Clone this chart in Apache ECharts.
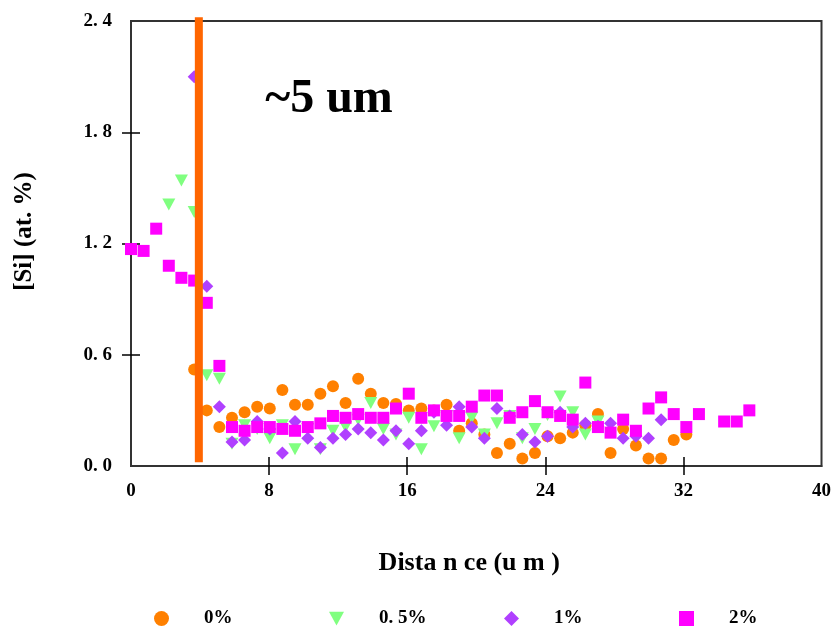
<!DOCTYPE html>
<html>
<head>
<meta charset="utf-8">
<script src="https://cdn.jsdelivr.net/npm/echarts@6/dist/echarts.min.js"></script>
<style>
html,body{margin:0;padding:0;background:#fff;}
#chart{width:834px;height:626px;}
</style>
</head>
<body>
<div id="chart"></div>
<script>
// Shared measurement positions (um)
const distance = [0, 0.73, 1.46, 2.19, 2.92, 3.66, 4.39, 5.12, 5.85, 6.58,
  7.31, 8.04, 8.77, 9.5, 10.24, 10.97, 11.7, 12.43, 13.16, 13.89,
  14.62, 15.35, 16.09, 16.82, 17.55, 18.28, 19.01, 19.74, 20.47, 21.2,
  21.94, 22.67, 23.4, 24.13, 24.86, 25.59, 26.32, 27.05, 27.78, 28.51,
  29.25, 29.98, 30.71, 31.44, 32.17, 32.9, 33.63, 34.36, 35.09, 35.82];

const si0 = [null, null, null, null, null, 0.52, 0.30, 0.21, 0.26, 0.29,
  0.32, 0.31, 0.41, 0.33, 0.33, 0.39, 0.43, 0.34, 0.47, 0.39,
  0.34, 0.335, 0.30, 0.31, 0.30, 0.33, 0.19, 0.23, 0.17, 0.07,
  0.12, 0.04, 0.07, 0.16, 0.15, 0.18, 0.22, 0.28, 0.07, 0.20,
  0.11, 0.04, 0.04, 0.14, 0.17, null, null, null, null, null];

const si05 = [null, null, null, 1.41, 1.54, 1.37, 0.49, 0.47, 0.12, 0.22,
  0.20, 0.15, 0.22, 0.09, 0.20, 0.09, 0.19, 0.21, 0.25, 0.34,
  0.20, 0.17, 0.26, 0.09, 0.215, 0.27, 0.15, 0.26, 0.17, 0.23,
  0.27, 0.15, 0.20, 0.275, 0.375, 0.29, 0.17, 0.24, null, null,
  null, null, null, null, null, null, null, null, null, null];

const si1 = [null, null, null, null, null, 2.10, 0.97, 0.32, 0.13, 0.14,
  0.24, 0.20, 0.07, 0.24, 0.15, 0.10, 0.15, 0.17, 0.20, 0.18,
  0.14, 0.19, 0.12, 0.19, 0.29, 0.22, 0.32, 0.21, 0.15, 0.31,
  0.27, 0.17, 0.13, 0.16, 0.29, 0.21, 0.23, 0.215, 0.23, 0.15,
  0.16, 0.15, 0.25, null, null, null, null, null, null, null];

const si2 = [1.17, 1.16, 1.28, 1.08, 1.015, 1.00, 0.88, 0.54, 0.21, 0.19,
  0.21, 0.21, 0.20, 0.19, 0.21, 0.23, 0.27, 0.26, 0.28, 0.26,
  0.26, 0.31, 0.39, 0.26, 0.30, 0.27, 0.27, 0.32, 0.38, 0.38,
  0.26, 0.29, 0.35, 0.29, 0.27, 0.25, 0.45, 0.21, 0.18, 0.25,
  0.19, 0.31, 0.37, 0.28, 0.21, 0.28, null, 0.24, 0.24, 0.30];

const seriesNames = ['0%', '0. 5%', '1%', '2%'];
const seriesColors = ['#FF8000', '#80FF80', '#B040FF', '#FF00FF'];

// vertical boundary line
const boundaryX = 3.93;
const boundaryY = [0.02, 2.42];

const xTicks = [8, 16, 24, 32];
const yTicks = [0.6, 1.2, 1.8];

const FONT = '"Liberation Serif", "Times New Roman", serif';

function pairs(vals) {
  const out = [];
  vals.forEach((v, i) => { if (v !== null) out.push([distance[i], v]); });
  return out;
}

const symbols = [
  'circle',
  'path://M0,0 L12,0 L6,11 Z',
  'diamond',
  'rect'
];
const sizes = [12, [13, 12], 13, 12];
const valueSets = [si0, si05, si1, si2];

const scatterSeries = seriesNames.map((name, k) => ({
  name: name,
  type: 'scatter',
  symbol: symbols[k],
  symbolSize: sizes[k],
  itemStyle: { color: seriesColors[k], opacity: 1 },
  data: pairs(valueSets[k]),
  z: 2 + k
}));

const legendLefts = [149, 324, 499, 674];
const legends = seriesNames.map((name, k) => ({
  data: [name],
  left: legendLefts[k],
  top: 604,
  itemWidth: 15,
  itemHeight: 15,
  selectedMode: false,
  textStyle: { fontFamily: FONT, fontWeight: 'bold', fontSize: 19, color: '#000', padding: [0, 0, 0, 30] }
}));

const axisLabelStyle = { fontFamily: FONT, fontWeight: 'bold', fontSize: 19, color: '#000' };

const option = {
  backgroundColor: '#fff',
  animation: false,
  grid: { left: 131, top: 21, width: 695, height: 445, show: true, borderColor: '#333', borderWidth: 2, backgroundColor: '#fff' },
  legend: legends,
  graphic: [{
    type: 'text',
    x: 329, y: 100,
    style: { text: '~5 um', fontFamily: FONT, fontWeight: 'bold', fontSize: 48, fill: '#000', align: 'center', verticalAlign: 'middle' },
    z: 20
  }],
  xAxis: [{
    type: 'value', min: 0, max: 40, interval: 8, position: 'bottom',
    name: 'Dista n ce (u m )', nameLocation: 'middle', nameGap: 84,
    nameTextStyle: { fontFamily: FONT, fontWeight: 'bold', fontSize: 26, color: '#000', padding: [0, 14, 0, 0] },
    axisLine: { show: true, lineStyle: { color: '#333', width: 2 } },
    axisTick: { show: true, inside: false, length: 9, customValues: xTicks, lineStyle: { color: '#000', width: 1.5 } },
    axisLabel: Object.assign({ margin: 16 }, axisLabelStyle),
    splitLine: { show: false }
  }, {
    type: 'value', min: 0, max: 40, interval: 8, position: 'bottom', offset: 0,
    axisLine: { show: false },
    axisTick: { show: true, inside: true, length: 9, customValues: xTicks, lineStyle: { color: '#000', width: 1.5 } },
    axisLabel: { show: false },
    splitLine: { show: false }
  }],
  yAxis: [{
    type: 'value', min: 0, max: 2.4, interval: 0.6, position: 'left',
    name: '[Si] (at. %)', nameLocation: 'middle', nameGap: 94, nameRotate: 90,
    nameTextStyle: { fontFamily: FONT, fontWeight: 'bold', fontSize: 25, color: '#000', padding: [0, 0, 0, 24] },
    axisLine: { show: true, lineStyle: { color: '#333', width: 2 } },
    axisTick: { show: true, inside: false, length: 9, customValues: yTicks, lineStyle: { color: '#000', width: 1.5 } },
    axisLabel: Object.assign({ margin: 19, formatter: v => v.toFixed(1).replace('.', '. ') }, axisLabelStyle),
    splitLine: { show: false }
  }, {
    type: 'value', min: 0, max: 2.4, interval: 0.6, position: 'left', offset: 0,
    axisLine: { show: false },
    axisTick: { show: true, inside: true, length: 9, customValues: yTicks, lineStyle: { color: '#000', width: 1.5 } },
    axisLabel: { show: false },
    splitLine: { show: false }
  }],
  series: scatterSeries.concat([{
    name: 'boundary',
    type: 'line',
    data: [[boundaryX, boundaryY[0]], [boundaryX, boundaryY[1]]],
    symbol: 'none',
    clip: false,
    silent: true,
    lineStyle: { color: '#FF6600', width: 8, cap: 'butt' },
    z: 10
  }])
};

const chart = echarts.init(document.getElementById('chart'), null, { renderer: 'canvas' });
chart.setOption(option);
</script>
</body>
</html>
